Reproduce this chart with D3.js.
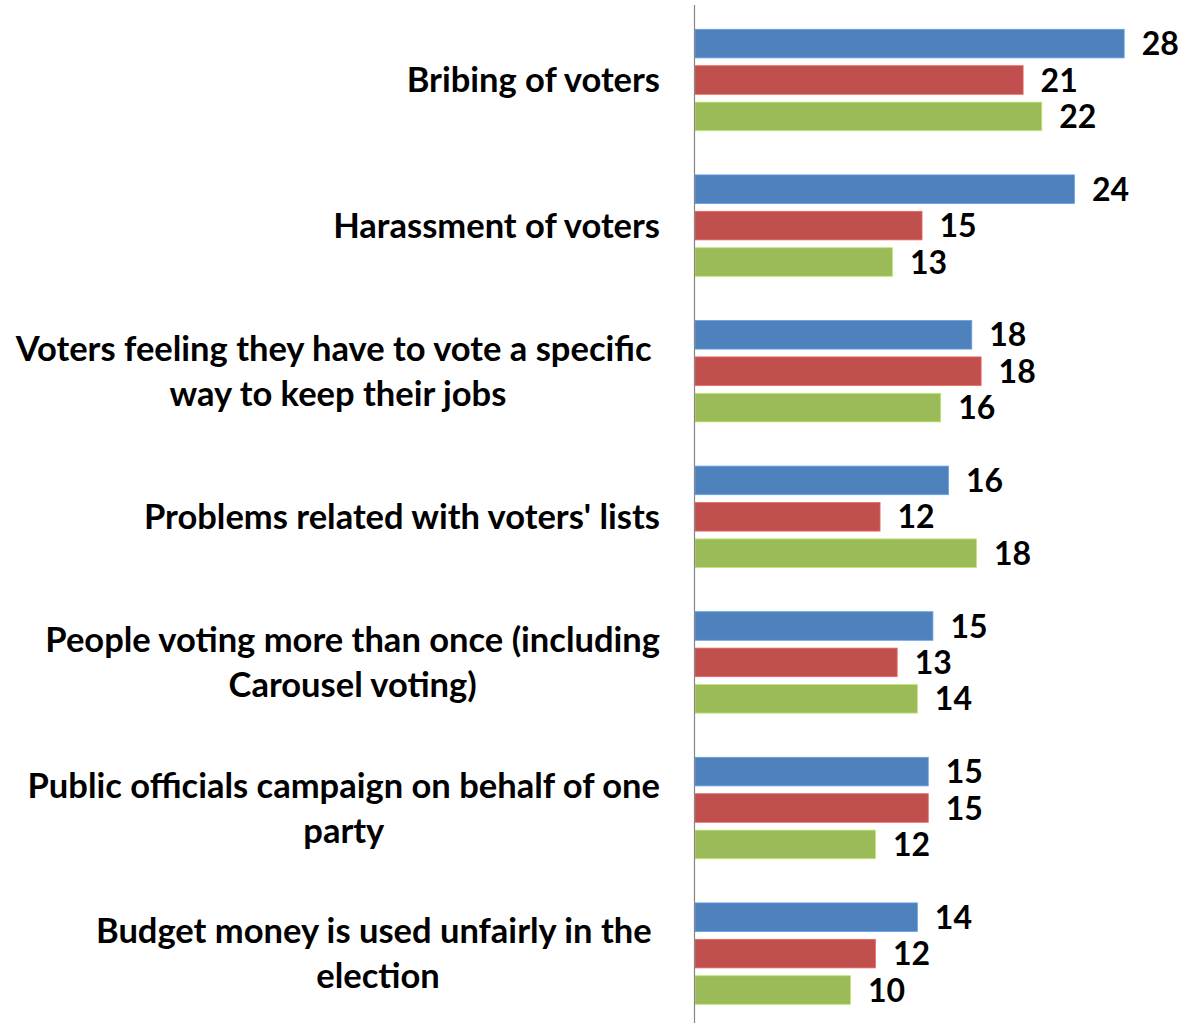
<!DOCTYPE html>
<html>
<head>
<meta charset="utf-8">
<script src="https://cdn.jsdelivr.net/npm/d3@7"></script>
<style>
  body { margin: 0; background: #fff; }
  svg { display: block; }
  text { font-family: Lato, "Open Sans", sans-serif; font-weight: bold; fill: #000; }
</style>
</head>
<body>
<svg id="chart" width="1180" height="1023"></svg>
<script>
// categories, each split into the lines shown in the picture
const categories = [
  ["Bribing of voters"],
  ["Harassment of voters"],
  ["Voters feeling they have to vote a specific ", "way to keep their jobs"],
  ["Problems related with voters' lists"],
  ["People voting more than once (including", "Carousel voting)"],
  ["Public officials campaign on behalf of one", "party"],
  ["Budget money is used unfairly in the ", "election"]
];

const series = ["s1", "s2", "s3"];
const colors = ["#4F81BD", "#C0504D", "#9BBB59"];

// values (labels show them rounded)
const values1 = [27.6, 24.4, 17.8, 16.3, 15.3, 15.0, 14.3];
const values2 = [21.1, 14.6, 18.4, 11.9, 13.0, 15.0, 11.6];
const values3 = [22.3, 12.7, 15.8, 18.1, 14.3, 11.6, 10.0];
const allValues = [values1, values2, values3];

const svg = d3.select("#chart");

const axisX = 694.5;
const x = d3.scaleLinear().domain([0, 30]).range([axisX, axisX + 30 * 15.55]);

const y = d3.scaleBand()
  .domain(d3.range(categories.length))
  .range([7.2, 7.2 + 7 * 145.6])
  .padding(0);

const ySub = d3.scaleBand()
  .domain(series)
  .range([22.1, 123.5])
  .paddingInner(0.215)
  .paddingOuter(0);

const groups = svg.selectAll("g.cat")
  .data(d3.range(categories.length))
  .enter().append("g")
    .attr("class", "cat")
    .attr("transform", i => `translate(0,${y(i)})`);

series.forEach((s, si) => {
  groups.append("rect")
    .attr("x", x(0) + 0.5)
    .attr("y", ySub(s))
    .attr("width", i => x(allValues[si][i]) - x(0))
    .attr("height", ySub.bandwidth())
    .attr("fill", colors[si])
    .attr("stroke", d3.color(colors[si]).brighter(0.6))
    .attr("stroke-width", 0.8);

  groups.append("text")
    .attr("x", i => x(allValues[si][i]) + 18)
    .attr("y", ySub(s) + ySub.bandwidth() / 2)
    .attr("dy", "0.36em")
    .style("font-size", "32px")
    .text(i => d3.format(".0f")(allValues[si][i]));
});

// category labels: lines centred on each other, block right aligned to the axis
const labelRight = 660;
const lineGap = 45;
groups.each(function(i) {
  const g = d3.select(this);
  const lines = categories[i];
  const mid = ySub.range()[0] + (ySub.range()[1] - ySub.range()[0]) / 2;
  const t = g.append("text")
    .style("font-size", "34.5px")
    .style("white-space", "pre")
    .attr("text-anchor", "middle");
  lines.forEach((line, li) => {
    t.append("tspan")
      .attr("y", mid + (li - (lines.length - 1) / 2) * lineGap)
      .attr("dy", "0.35em")
      .text(line);
  });
  let maxW = 0;
  t.selectAll("tspan").each(function() { maxW = Math.max(maxW, this.getComputedTextLength()); });
  t.selectAll("tspan").attr("x", labelRight - maxW / 2);
});

// vertical category axis line
svg.append("line")
  .attr("x1", axisX).attr("x2", axisX)
  .attr("y1", 5).attr("y2", 1023)
  .attr("stroke", "#868686")
  .attr("stroke-width", 1.2);
</script>
</body>
</html>
